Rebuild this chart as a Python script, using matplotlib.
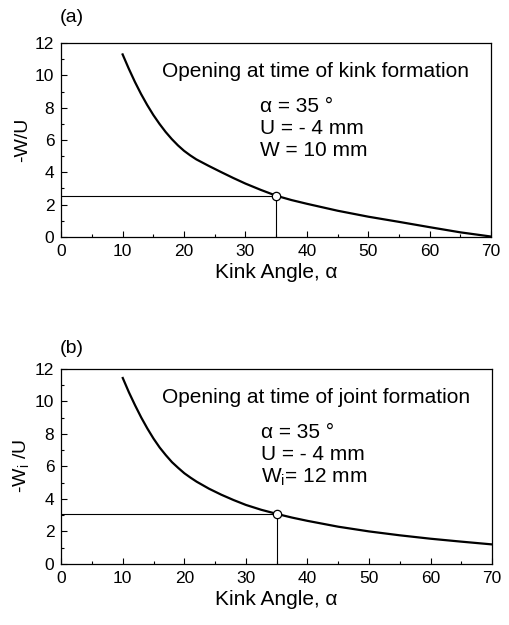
import matplotlib
matplotlib.use("Agg")
import matplotlib.pyplot as plt

plt.rcParams['font.family'] = ['Liberation Sans', 'DejaVu Sans']
plt.rcParams['mathtext.fontset'] = 'custom'
plt.rcParams['mathtext.rm'] = 'Liberation Sans'
plt.rcParams['mathtext.it'] = 'Liberation Sans'

# kink angle (deg) and curve values
kink_angle = [10, 11, 12, 13, 14, 15, 16, 17, 18, 19, 20, 21, 22, 24, 26, 28,
              30, 32.5, 35, 37.5, 40, 45, 50, 55, 60, 65, 70]
ratio_kink = [11.3, 10.42, 9.6, 8.85, 8.17, 7.55, 7.0, 6.5, 6.06, 5.67, 5.33,
              5.05, 4.8, 4.4, 4.02, 3.65, 3.3, 2.91, 2.55, 2.28, 2.05, 1.62,
              1.25, 0.93, 0.6, 0.28, 0.02]
ratio_joint = [11.43, 10.55, 9.75, 9.0, 8.32, 7.7, 7.15, 6.68, 6.25, 5.9, 5.57,
               5.3, 5.05, 4.62, 4.25, 3.92, 3.62, 3.32, 3.07, 2.84, 2.64, 2.28,
               1.99, 1.75, 1.54, 1.36, 1.19]

chosen_angle = 35
chosen_kink = 2.55
chosen_joint = 3.07

panels = [
    dict(tag="(a)", y=ratio_kink, pt=chosen_kink, ylabel="-W/U",
         title="Opening at time of kink formation",
         lines=["α = 35 °", "U = - 4 mm", "W = 10 mm"],
         rect=[0.12, 0.621, 0.843, 0.31], tag_y=0.972),
    dict(tag="(b)", y=ratio_joint, pt=chosen_joint, ylabel="-W$_\\mathregular{i}$ /U",
         title="Opening at time of joint formation",
         lines=["α = 35 °", "U = - 4 mm", "W$_\\mathregular{i}$= 12 mm"],
         rect=[0.12, 0.098, 0.845, 0.312], tag_y=0.443),
]

fig = plt.figure(figsize=(5.1, 6.25), dpi=100)

for p in panels:
    ax = fig.add_axes(p['rect'])
    ax.plot(kink_angle, p['y'], color='black', lw=1.6, zorder=3,
            solid_joinstyle='round')
    # guide lines to the chosen point
    ax.plot([0, chosen_angle], [p['pt'], p['pt']], color='black', lw=0.8, zorder=2)
    ax.plot([chosen_angle, chosen_angle], [0, p['pt']], color='black', lw=0.8, zorder=2)
    ax.plot([chosen_angle], [p['pt']], marker='o', ms=6, mfc='white', mec='black',
            mew=0.9, zorder=4)

    ax.set_xlim(0, 70)
    ax.set_ylim(0, 12)
    ax.set_xticks(range(0, 71, 10))
    ax.set_xticks(range(5, 70, 10), minor=True)
    ax.set_yticks(range(0, 13, 2))
    ax.set_yticks(range(1, 12, 2), minor=True)
    ax.tick_params(which='both', direction='in', labelsize=12.5, width=0.8)
    ax.tick_params(which='major', length=4, pad=5)
    ax.tick_params(which='minor', length=2.5)
    for s in ax.spines.values():
        s.set_linewidth(0.9)

    ax.set_xlabel("Kink Angle, α", fontsize=15, labelpad=3)
    ax.set_ylabel(p['ylabel'], fontsize=14, labelpad=3)

    ax.text(16.4, 9.9, p['title'], fontsize=15, va='baseline', ha='left')
    for ly, line in zip([7.75, 6.4, 5.0], p['lines']):
        ax.text(32.4, ly, line, fontsize=15, va='baseline', ha='left')

    fig.text(0.118, p['tag_y'], p['tag'], fontsize=14, va='center', ha='left')

fig.savefig("out.png", dpi=100)
